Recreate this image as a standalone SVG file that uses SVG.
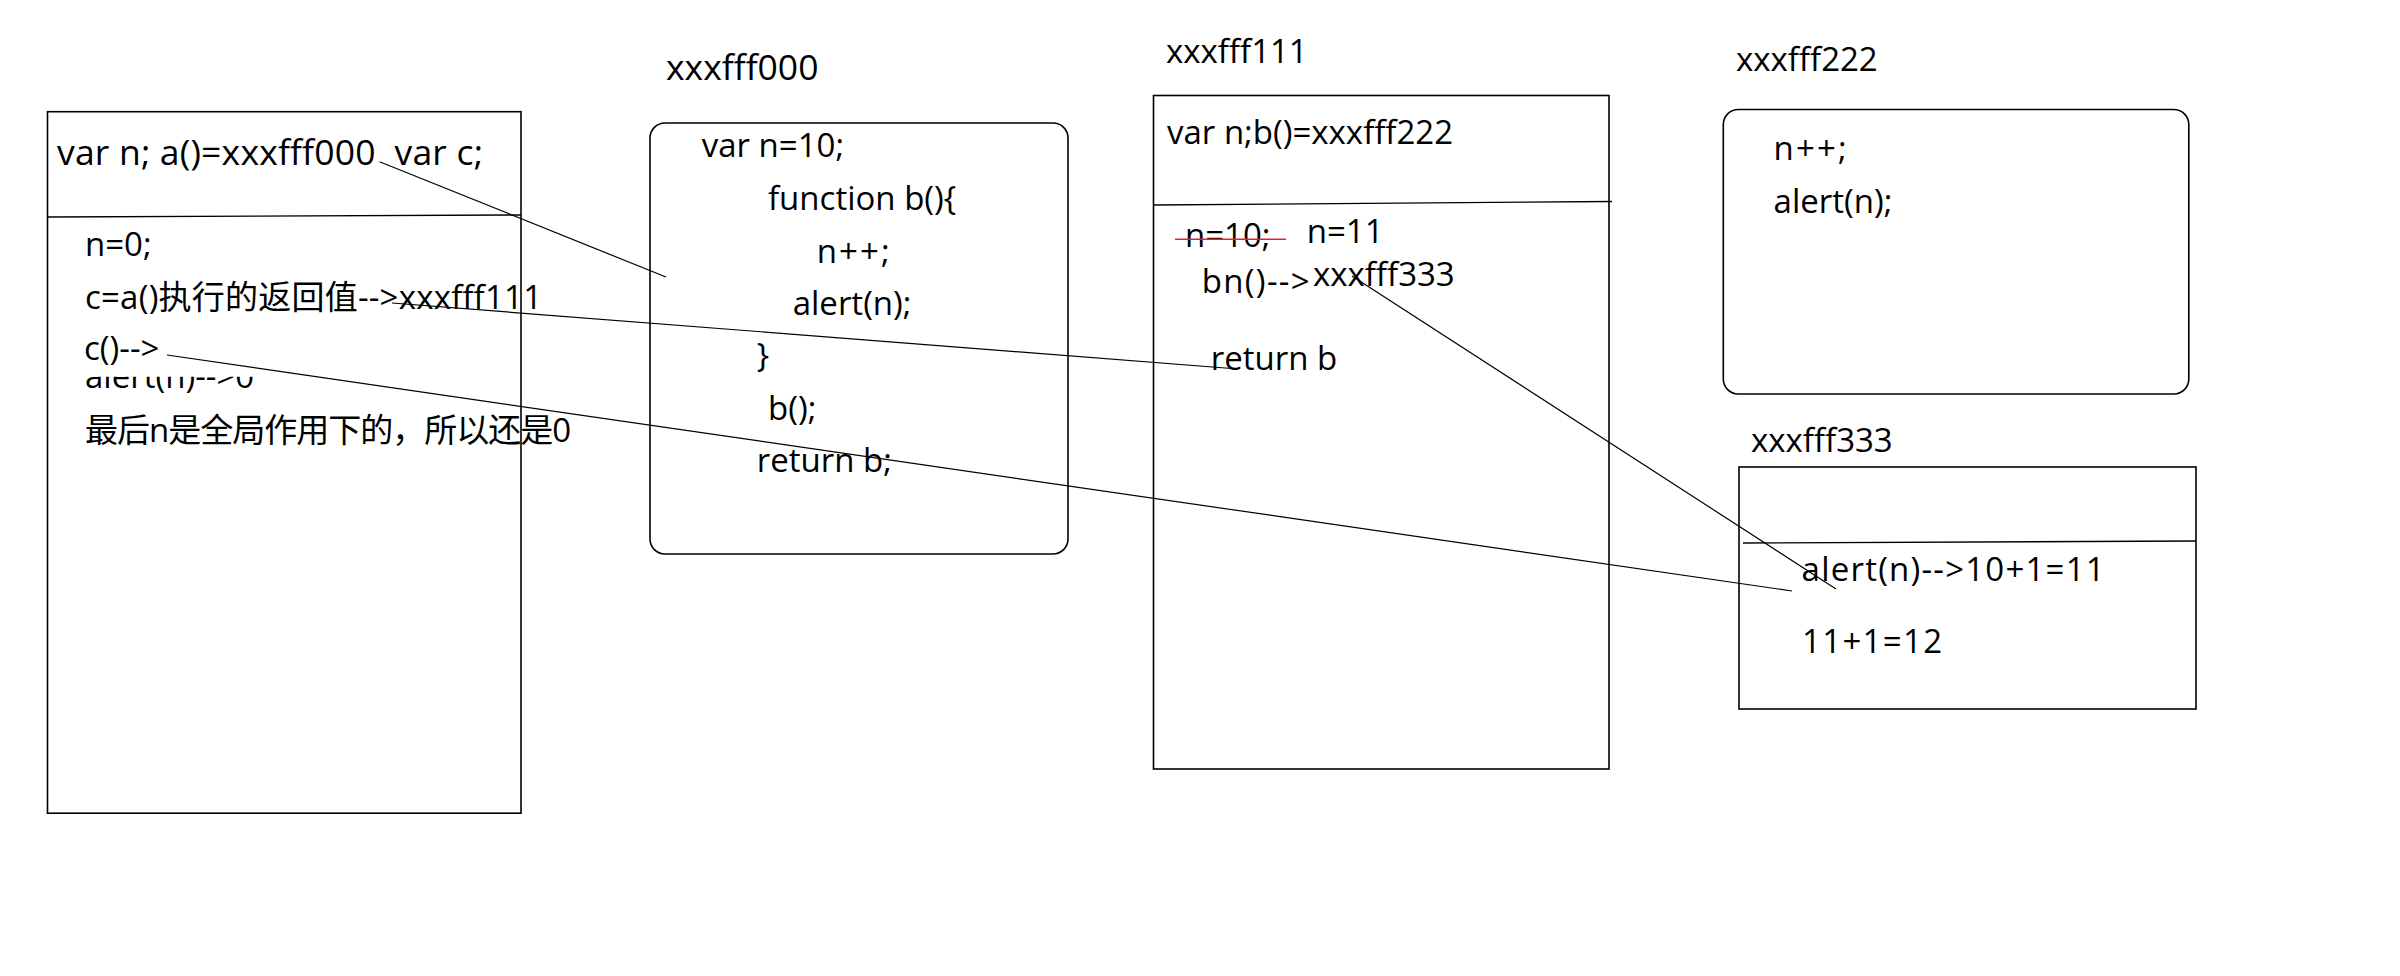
<svg xmlns="http://www.w3.org/2000/svg" width="2400" height="976" viewBox="0 0 2400 976">
<style>
.t{font-family:"Open Sans","Noto Sans CJK SC",sans-serif;font-size:33px;fill:#000;white-space:pre}
.big{font-size:35.5px}
.box{fill:none;stroke:#000;stroke-width:1.6}
.sep{stroke:#000;stroke-width:1.4;fill:none}
.con{stroke:#000;stroke-width:1.2;fill:none}
</style>
<defs>
<clipPath id="cutAlert"><rect x="60" y="376.7" width="400" height="40"/></clipPath>
</defs>
<rect width="2400" height="976" fill="#fff"/>

<g id="global">
<rect class="box" x="47.5" y="111.7" width="473.5" height="701.5"/>
<line class="sep" x1="48" y1="217" x2="521" y2="215"/>
<text class="t big" x="57" y="165" xml:space="preserve" textLength="426">var n; a()=xxxfff000  var c;</text>
<text class="t" x="85" y="256">n=0;</text>
<text class="t" x="85" y="309" textLength="457">c=a()执行的返回值--&gt;xxxfff111</text>
<text class="t" x="85" y="388.3" clip-path="url(#cutAlert)">alert(n)--&gt;0</text>
<text class="t" x="84" y="359.5">c()--&gt;</text>
<text class="t" x="85" y="442" textLength="486">最后n是全局作用下的，所以还是0</text>
</g>

<g id="xxxfff000">
<text class="t big" x="666" y="79.7">xxxfff000</text>
<rect class="box" x="650" y="123" width="418" height="431" rx="15" ry="15"/>
<text class="t" x="701.7" y="157.4">var n=10;</text>
<text class="t" x="768" y="209.8">function b(){</text>
<text class="t" x="816.7" y="262.9" textLength="73">n++;</text>
<text class="t" x="792.7" y="314.9">alert(n);</text>
<text class="t" x="756.7" y="367">}</text>
<text class="t" x="768" y="420.4">b();</text>
<text class="t" x="756.7" y="471.8">return b;</text>
</g>

<g id="xxxfff111">
<text class="t" x="1166" y="63.3">xxxfff111</text>
<rect class="box" x="1153.5" y="95.5" width="455.5" height="673.5"/>
<line class="sep" x1="1153" y1="205" x2="1612" y2="201.5"/>
<text class="t" x="1167" y="144">var n;b()=xxxfff222</text>
<text class="t" x="1185" y="247.3">n=10;</text>
<line x1="1175" y1="239.3" x2="1286" y2="239.3" stroke="#ed1c24" stroke-width="1.6"/>
<text class="t" x="1306.7" y="243.3">n=11</text>
<text class="t" x="1201.7" y="293.3" textLength="108">bn()--&gt;</text>
<text class="t" x="1313" y="286">xxxfff333</text>
<text class="t" x="1210.7" y="370">return b</text>
</g>

<g id="xxxfff222">
<text class="t" x="1736" y="71.4">xxxfff222</text>
<rect class="box" x="1723.3" y="109.5" width="465.5" height="284.5" rx="15" ry="15"/>
<text class="t" x="1773.6" y="160" textLength="73">n++;</text>
<text class="t" x="1773.6" y="212.7">alert(n);</text>
</g>

<g id="xxxfff333">
<text class="t" x="1751" y="451.5">xxxfff333</text>
<rect class="box" x="1739" y="467" width="457" height="242"/>
<line class="sep" x1="1743" y1="543" x2="2196" y2="541"/>
<text class="t" x="1801.6" y="581" textLength="303">alert(n)--&gt;10+1=11</text>
<text class="t" x="1802" y="653" textLength="140">11+1=12</text>
</g>

<g id="connectors">
<line class="con" x1="379.6" y1="161.7" x2="666" y2="277"/>
<line class="con" x1="392" y1="303" x2="1238" y2="369"/>
<line class="con" x1="167" y1="355" x2="1792" y2="591"/>
<line class="con" x1="1352" y1="276" x2="1836" y2="589"/>
</g>
</svg>
